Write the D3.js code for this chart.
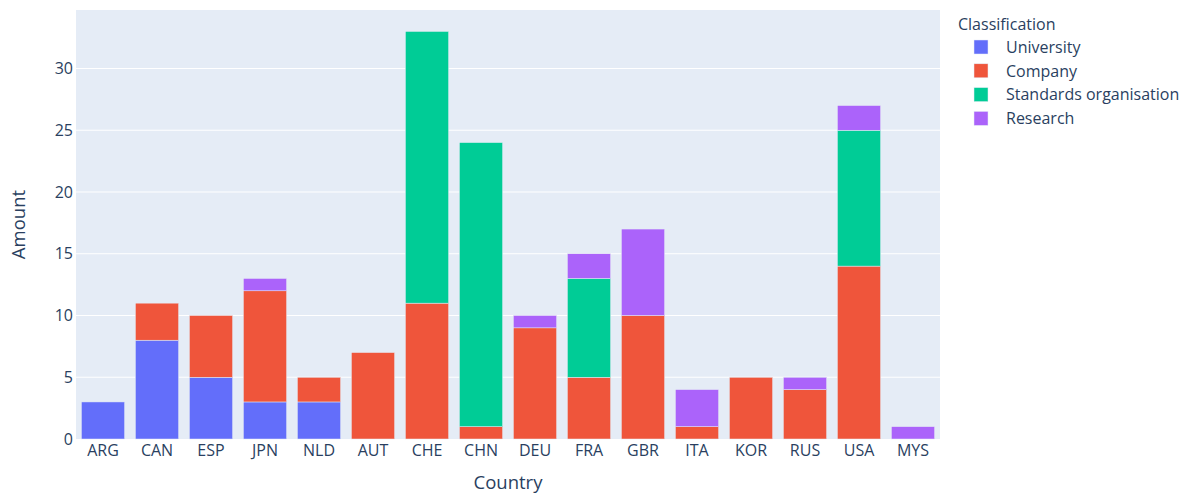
<!DOCTYPE html>
<html>
<head>
<meta charset="utf-8">
<script src="https://cdn.jsdelivr.net/npm/d3@7"></script>
<style>
  body { margin: 0; background: #fff; }
  text { font-family: "Open Sans", "Noto Sans", sans-serif; fill: #2a3f5f; }
</style>
</head>
<body>
<svg id="chart" width="1183" height="495"></svg>
<script>
// data
const countries = ["ARG", "CAN", "ESP", "JPN", "NLD", "AUT", "CHE", "CHN", "DEU", "FRA", "GBR", "ITA", "KOR", "RUS", "USA", "MYS"];
const classes = ["University", "Company", "Standards organisation", "Research"];
const colors = ["#636efa", "#EF553B", "#00cc96", "#ab63fa"];

const university = [3, 8, 5, 3, 3, 0, 0, 0, 0, 0, 0, 0, 0, 0, 0, 0];
const company    = [0, 3, 5, 9, 2, 7, 11, 1, 9, 5, 10, 1, 5, 4, 14, 0];
const standards  = [0, 0, 0, 0, 0, 0, 22, 23, 0, 8, 0, 0, 0, 0, 11, 0];
const research   = [0, 0, 0, 1, 0, 0, 0, 0, 1, 2, 7, 3, 0, 1, 2, 1];

const yTicks = [0, 5, 10, 15, 20, 25, 30];

const series = [university, company, standards, research];

const margin = {left: 76, top: 10, right: 243, bottom: 56};
const width = 1183, height = 495;
const w = width - margin.left - margin.right;
const h = height - margin.top - margin.bottom;

const svg = d3.select("#chart");

// stack
const rows = countries.map((c, i) => {
    const r = {country: c};
    classes.forEach((k, j) => r[k] = series[j][i]);
    return r;
});
const stacked = d3.stack().keys(classes)(rows);
const ymax = d3.max(rows, r => d3.sum(classes, k => r[k]));

const x = d3.scaleBand().domain(countries).range([0, w]).paddingInner(0.2).paddingOuter(0.1);
const y = d3.scaleLinear().domain([0, ymax * 1.0526]).range([h, 0]);

const g = svg.append("g").attr("transform", `translate(${margin.left},${margin.top})`);

g.append("rect").attr("width", w).attr("height", h).attr("fill", "#E5ECF6");

// gridlines
g.append("g")
    .selectAll("line")
    .data(yTicks.filter(d => d > 0))
    .enter().append("line")
    .attr("x1", 0).attr("x2", w)
    .attr("y1", d => y(d)).attr("y2", d => y(d))
    .attr("stroke", "#fff").attr("stroke-width", 1);

// bars
g.append("g").selectAll("g")
    .data(stacked)
    .enter().append("g")
    .attr("fill", (d, i) => colors[i])
    .selectAll("rect")
    .data(d => d.filter(s => s[1] - s[0] > 0))
    .enter().append("rect")
    .attr("x", d => x(d.data.country))
    .attr("y", d => y(d[1]))
    .attr("width", x.bandwidth())
    .attr("height", d => y(d[0]) - y(d[1]))
    .attr("stroke", "#E5ECF6")
    .attr("stroke-width", 0.5);

// y axis
const yAxis = g.append("g")
    .call(d3.axisLeft(y).tickValues(yTicks).tickSize(0).tickPadding(3));
yAxis.select(".domain").remove();
yAxis.selectAll("text").attr("font-size", 16).attr("fill", "#2a3f5f")
    .style("font-family", '"Open Sans", sans-serif');

// x axis
const xAxis = g.append("g")
    .attr("transform", `translate(0,${h})`)
    .call(d3.axisBottom(x).tickSize(0).tickPadding(6));
xAxis.select(".domain").remove();
xAxis.selectAll("text").attr("font-size", 16).attr("fill", "#2a3f5f")
    .style("font-family", '"Open Sans", sans-serif');

// axis titles
svg.append("text")
    .attr("x", margin.left + w / 2).attr("y", 489)
    .attr("text-anchor", "middle").attr("font-size", 18.5)
    .text("Country");
svg.append("text")
    .attr("transform", `translate(25,${margin.top + h / 2}) rotate(-90)`)
    .attr("text-anchor", "middle").attr("font-size", 18.5)
    .text("Amount");

// legend
const legend = svg.append("g").attr("transform", "translate(958,0)");
legend.append("text").attr("x", 0).attr("y", 29.5).attr("font-size", 16).text("Classification");
const items = legend.selectAll(".item")
    .data(classes)
    .enter().append("g")
    .attr("class", "item")
    .attr("transform", (d, i) => `translate(0,${47 + i * 23.8})`);
items.append("rect")
    .attr("x", 16).attr("y", -7).attr("width", 14).attr("height", 14)
    .attr("fill", (d, i) => colors[i])
    .attr("stroke", "#E5ECF6").attr("stroke-width", 0.5);
items.append("text")
    .attr("x", 48).attr("y", 5.7).attr("font-size", 16)
    .text(d => d);
</script>
</body>
</html>
